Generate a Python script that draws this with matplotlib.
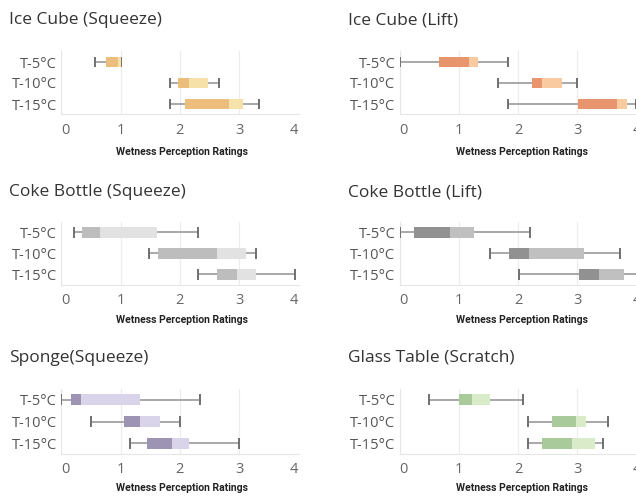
import matplotlib
matplotlib.use("Agg")
import matplotlib.pyplot as plt

W, H = 636, 498

ROWS = ["T-5°C", "T-10°C", "T-15°C"]
TICKS = [0, 1, 2, 3, 4]

# five-number summaries per row: [whisker low, Q1, median, Q3, whisker high]
ICE_SQUEEZE = [[0.57, 0.76, 0.96, 1.00, 1.00],
               [1.83, 1.96, 2.16, 2.47, 2.66],
               [1.83, 2.08, 2.83, 3.07, 3.33]]
ICE_LIFT = [[0.00, 0.66, 1.17, 1.32, 1.83],
            [1.66, 2.24, 2.41, 2.74, 2.99],
            [1.83, 3.01, 3.66, 3.83, 3.98]]
COKE_SQUEEZE = [[0.21, 0.35, 0.65, 1.62, 2.30],
                [1.48, 1.63, 2.62, 3.11, 3.28],
                [2.30, 2.62, 2.96, 3.28, 3.94]]
COKE_LIFT = [[0.00, 0.25, 0.85, 1.25, 2.20],
             [1.52, 1.85, 2.19, 3.11, 3.71],
             [2.02, 3.02, 3.37, 3.78, 4.10]]
SPONGE_SQUEEZE = [[0.00, 0.16, 0.33, 1.32, 2.34],
                  [0.50, 1.06, 1.32, 1.66, 2.00],
                  [1.16, 1.44, 1.87, 2.16, 3.00]]
GLASS_SCRATCH = [[0.50, 1.00, 1.23, 1.53, 2.08],
                 [2.17, 2.57, 2.97, 3.14, 3.51],
                 [2.17, 2.41, 2.91, 3.30, 3.43]]

PANELS = [
    ("Ice Cube (Squeeze)", ICE_SQUEEZE, "#EBBE7E", "#F6E2A8"),
    ("Ice Cube (Lift)", ICE_LIFT, "#E8956E", "#F9C9A0"),
    ("Coke Bottle (Squeeze)", COKE_SQUEEZE, "#BDBDBD", "#E2E2E2"),
    ("Coke Bottle (Lift)", COKE_LIFT, "#919191", "#C0C0C0"),
    ("Sponge(Squeeze)", SPONGE_SQUEEZE, "#9D94B4", "#D9D4EA"),
    ("Glass Table (Scratch)", GLASS_SCRATCH, "#A9CB9C", "#D9EBC8"),
]

# pixel layout: (x of zero, xmax shown, title x, label x), (top, bottom, title y, label y)
COLS = [(61.3, 4.0, 9, 182), (399.5, 4.2, 348, 522)]
ROW_PX = [(51.5, 114.5, 20, 152), (222, 285, 192, 320), (389, 454, 358, 488)]
UNIT = 59.3

plt.rcParams["font.family"] = ["Open Sans", "DejaVu Sans"]
fig = plt.figure(figsize=(W / 100, H / 100), dpi=100)

for i, (title, stats, dark, light) in enumerate(PANELS):
    x0, xmax, tx, lx = COLS[i % 2]
    top, bot, ty, ly = ROW_PX[i // 2]
    ax = fig.add_axes([x0 / W, 1 - bot / H, xmax * UNIT / W, (bot - top) / H])
    ax.set_xlim(0, xmax)
    ax.set_ylim(2.5, -0.5)

    for y, (lo, q1, med, q3, hi) in enumerate(stats):
        ax.hlines(y, lo, q1, color="#9a9a9a", lw=1.2, zorder=2)
        ax.hlines(y, q3, hi, color="#9a9a9a", lw=1.2, zorder=2)
        ax.vlines([lo, hi], y - 0.26, y + 0.26, color="#707070", lw=1.4, zorder=3)
        ax.barh(y, med - q1, left=q1, height=0.52, color=dark, zorder=4)
        ax.barh(y, q3 - med, left=med, height=0.52, color=light, zorder=4)

    for t in TICKS:
        ax.axvline(t, color="#ececec", lw=0.8, zorder=0)
    for s in ["top", "right"]:
        ax.spines[s].set_visible(False)
    ax.spines["left"].set_color("#e6e6e6")
    ax.spines["bottom"].set_color("#e6e6e6")

    ax.set_yticks(range(len(ROWS)))
    ax.set_yticklabels(ROWS, fontsize=10.5, color="#555555")
    ax.set_xticks(TICKS)
    ax.set_xticklabels([str(t) for t in TICKS], fontsize=10.5, color="#666666")
    ax.tick_params(length=0)
    ax.tick_params(axis="x", pad=6)
    ax.tick_params(axis="y", pad=3)
    ax.get_xticklabels()[0].set_ha("left")
    if i % 2 == 0:
        ax.get_xticklabels()[-1].set_ha("right")

    fig.text(tx / W, 1 - ty / H, title, fontsize=12.5, color="#333333",
             ha="left", va="center")
    fig.text(lx / W, 1 - ly / H, "Wetness Perception Ratings", fontsize=7.5,
             family=["Roboto", "DejaVu Sans"], weight="bold", color="#222222",
             ha="center", va="center")

fig.savefig("out.png", dpi=100)
